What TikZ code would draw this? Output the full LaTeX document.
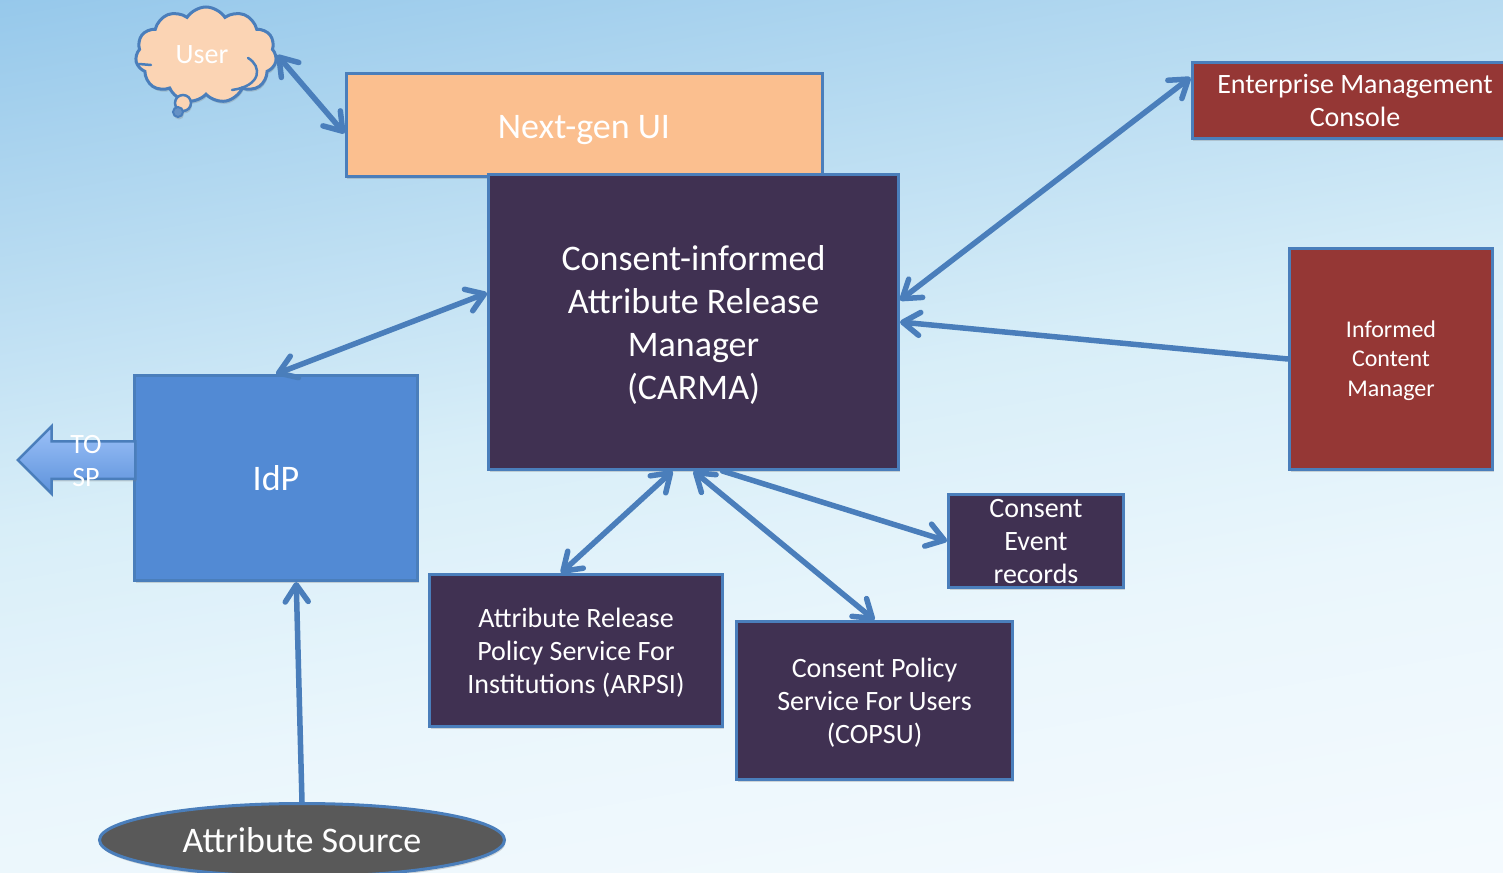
\documentclass[tikz,border=0pt]{standalone}
\usepackage{fontspec}
\setmainfont{Carlito}
\usetikzlibrary{arrows.meta,shapes.geometric,shapes.symbols,shapes.arrows,shadows}
\pgfdeclareverticalshading{skyfill}{100bp}{
	rgb(0bp)=(.98,.992,1);
	rgb(15bp)=(.973,.988,1);
	rgb(38bp)=(.918,.965,.988);
	rgb(52bp)=(.847,.933,.973);
	rgb(72bp)=(.659,.824,.933);
	rgb(88bp)=(.502,.737,.906);
	rgb(100bp)=(.471,.714,.898)
}
\newcommand{\pad}[1]{\rule{0pt}{#1}}
\definecolor{darkbox}{HTML}{403152}
\definecolor{redbox}{HTML}{953735}
\definecolor{peachbox}{HTML}{FBBF8F}
\definecolor{peachcloud}{HTML}{FBD4B4}
\definecolor{idpbox}{HTML}{528AD4}
\definecolor{linkblue}{HTML}{4A7EBB}
\definecolor{arrowtop}{HTML}{9CC1F8}
\definecolor{arrowlow}{HTML}{5D92DB}
\begin{document}
\begin{tikzpicture}
	[
		x=1pt, y=-1pt,
		every node/.style = {
			align=center, text=white, inner sep=0pt
		},
		box/.style = {
			shape=rectangle, draw=linkblue, line width=3pt,
			drop shadow={opacity=.3, shadow xshift=1pt, shadow yshift=-2.5pt}
		},
		big/.style = {font=\fontsize{36}{42.7}\selectfont},
		mid/.style = {font=\fontsize{28}{33}\selectfont},
		small/.style = {font=\fontsize{24}{29.5}\selectfont},
		fold/.style = {draw=linkblue, line width=2.5pt, line cap=round},
		link/.style = {
			draw=linkblue, line width=5.5pt, line cap=round,
			>={Straight Barb[length=17pt,width=23pt,round]}
		}
	]
	\clip (0,0) rectangle (1503,872);
	\shade[shading=skyfill, shading angle=10] (0,0) rectangle (1503,872);

	\node[box, big, fill=peachbox, minimum width=476pt, minimum height=102pt] (nextgen) at (584,125) {\pad{33pt}Next-gen UI};
	\node[box, big, fill=darkbox, minimum width=410pt, minimum height=295pt] (carma) at (693.5,322)
		{\pad{31pt}Consent-informed\\Attribute Release\\Manager\\(CARMA)};
	\node[box, big, fill=idpbox, minimum width=283pt, minimum height=205pt] (idp) at (276,478) {IdP};
	\node[box, mid, fill=redbox, minimum width=326pt, minimum height=76pt] (console) at (1355,100.5)
		{Enterprise Management\\Console};
	\node[box, small, fill=redbox, minimum width=203pt, minimum height=221pt] (manager) at (1391,359)
		{\pad{20pt}Informed\\Content\\Manager};
	\node[box, mid, fill=darkbox, minimum width=175pt, minimum height=93pt] (records) at (1036,541)
		{\pad{19pt}Consent\\Event\\records};
	\node[box, mid, fill=darkbox, minimum width=293pt, minimum height=152pt] (arpsi) at (576,650.5)
		{\pad{24.5pt}Attribute Release\\Policy Service For\\Institutions (ARPSI)};
	\node[box, mid, fill=darkbox, minimum width=276pt, minimum height=158pt] (copsu) at (874.5,700.5)
		{\pad{24.5pt}Consent Policy\\Service For Users\\(COPSU)};
	\node[box, shape=ellipse, big, fill=black!65, minimum width=405pt, minimum height=73pt] (source) at (302,840)
		{Attribute Source};

	% thought bubble
	\node[box, shape=cloud, fill=peachcloud, cloud puffs=11, cloud puff arc=115, aspect=1.45,
		minimum width=141pt, minimum height=96pt] (user) at (206,55) {};
	\node[mid] (usertext) at (202,55) {User};
	\node[box, shape=circle, fill=peachcloud, line width=2.5pt, minimum size=16pt] (puffa) at (183,103) {};
	\node[box, shape=circle, fill=linkblue!85!white, line width=2pt, minimum size=10pt] (puffb) at (178,112) {};
	\draw[fold] (248,58) .. controls (262,66) and (262,86) .. (232,90);
	\draw[fold] (139,64) -- (151,65);

	% leaving for the SP
	\node[shape=single arrow, shape border rotate=180, draw=linkblue, line width=2.5pt,
		top color=arrowtop, bottom color=arrowlow, inner ysep=17.5pt,
		minimum height=117.5pt, single arrow head extend=15pt,
		drop shadow={opacity=.3, shadow xshift=1pt, shadow yshift=-2.5pt}] (tosp) at (86,460) {};
	\node[mid] (tosptext) at (86,461) {TO\\SP};

	\draw[link, <->] (user.east) -- (nextgen.182);
	\draw[link, <->] (carma.6.7) -- (console.172.8);
	\draw[link, ->] (manager.west) -- (carma.east);
	\draw[link, <->] (idp.north) -- (carma.172.5);
	\draw[link, <->] (arpsi.101.8) -- (carma.262.1);
	\draw[link, <->] (copsu.north) -- (carma.270.5);
	\draw[link, ->] (carma.281.6) -- (records.west);
	\draw[link, ->] (source.north) -- (idp.281);
\end{tikzpicture}
\end{document}
